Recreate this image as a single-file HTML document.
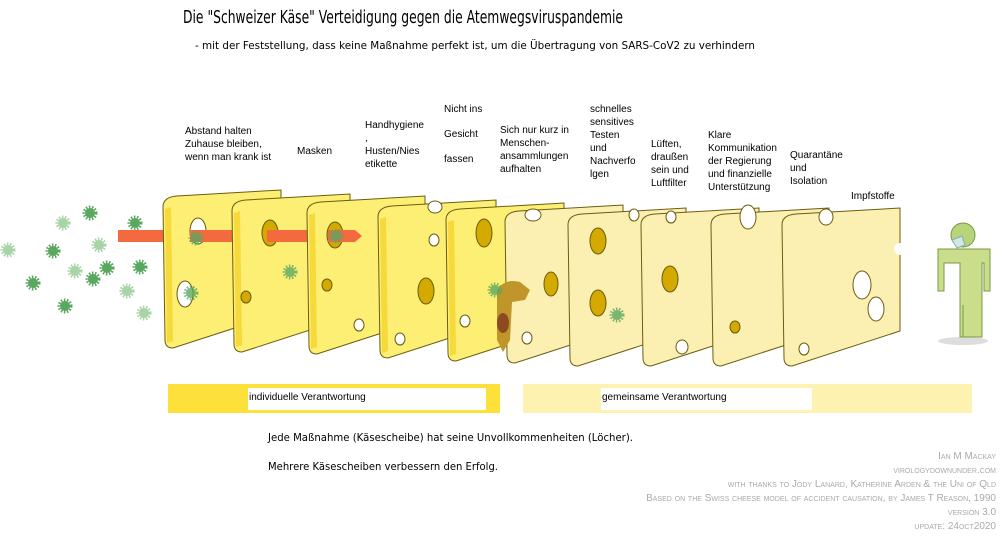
<!DOCTYPE html>
<html><head><meta charset="utf-8"><style>
html,body{margin:0;padding:0;background:#fff;width:1000px;height:546px;overflow:hidden}
svg{display:block}
.l{font-family:"Liberation Sans",Arial,sans-serif;font-size:10px;fill:#000}
.c{font-family:"DejaVu Sans","Liberation Sans",sans-serif;fill:#000}
.cr{font-family:"Liberation Sans",sans-serif;font-size:10px;fill:#aaa;font-variant:small-caps;text-anchor:end}
</style></head><body>
<svg width="1000" height="546" viewBox="0 0 1000 546" xmlns="http://www.w3.org/2000/svg">
<defs>
<path id="sl" d="M0,12 Q0,2 14,1 L118,-5 L118,118 L10,153 Q2,153 2,145 Z"/>
<g id="vir"><circle r="6" fill="none" stroke-width="3" stroke-dasharray="1.5 1.5"/><circle r="4.5"/></g>
</defs>
<text class="c" x="183" y="23" font-size="18" textLength="440" lengthAdjust="spacingAndGlyphs">Die "Schweizer Käse" Verteidigung gegen die Atemwegsviruspandemie</text>
<text class="c" x="195" y="49" font-size="11" textLength="560" lengthAdjust="spacingAndGlyphs">- mit der Feststellung, dass keine Maßnahme perfekt ist, um die Übertragung von SARS-CoV2 zu verhindern</text>

<g class="l">
<text x="185" y="134">Abstand halten</text><text x="185" y="147">Zuhause bleiben,</text><text x="185" y="160">wenn man krank ist</text>
<text x="297" y="154">Masken</text>
<text x="365" y="128">Handhygiene</text><text x="365" y="141">,</text><text x="365" y="154">Husten/Nies</text><text x="365" y="167">etikette</text>
<text x="444" y="112">Nicht ins</text><text x="444" y="137">Gesicht</text><text x="444" y="162">fassen</text>
<text x="500" y="133">Sich nur kurz in</text><text x="500" y="146">Menschen-</text><text x="500" y="159">ansammlungen</text><text x="500" y="172">aufhalten</text>
<text x="590" y="112">schnelles</text><text x="590" y="125">sensitives</text><text x="590" y="138">Testen</text><text x="590" y="151">und</text><text x="590" y="164">Nachverfo</text><text x="590" y="177">lgen</text>
<text x="651" y="147">Lüften,</text><text x="651" y="160">draußen</text><text x="651" y="173">sein und</text><text x="651" y="186">Luftfilter</text>
<text x="708" y="138">Klare</text><text x="708" y="151">Kommunikation</text><text x="708" y="164">der Regierung</text><text x="708" y="177">und finanzielle</text><text x="708" y="190">Unterstützung</text>
<text x="790" y="158">Quarantäne</text><text x="790" y="171">und</text><text x="790" y="184">Isolation</text>
<text x="851" y="199">Impfstoffe</text>
</g>

<g fill="#5aa860" stroke="#5aa860">
<use href="#vir" x="90" y="213"/><use href="#vir" x="53" y="251"/><use href="#vir" x="107" y="268"/><use href="#vir" x="93" y="279"/><use href="#vir" x="33" y="283"/><use href="#vir" x="140" y="267"/><use href="#vir" x="65" y="306"/><use href="#vir" x="135" y="223"/>
</g>
<g fill="#a8d4a8" stroke="#a8d4a8">
<use href="#vir" x="63" y="223"/><use href="#vir" x="8" y="250"/><use href="#vir" x="75" y="271"/><use href="#vir" x="99" y="245"/><use href="#vir" x="127" y="291"/><use href="#vir" x="144" y="313"/>
</g>
<rect x="118" y="230" width="50" height="12" fill="#f26a3e"/>

<g stroke="#6b5c10" stroke-width="1">
<g transform="translate(163,195)"><rect x="95" y="15" width="30" height="110" fill="#d4aa00" stroke="none"/><use href="#sl" fill="#fdef74"/><path d="M2,14 L8,12 L10,146 L4,148Z" fill="#f6d93a" stroke="none"/><ellipse cx="35" cy="36" rx="8" ry="13" fill="#fff"/><ellipse cx="22" cy="99" rx="8" ry="13" fill="#fff"/></g>
<rect x="190" y="230" width="42" height="12" fill="#f26a3e" stroke="none"/>
<g transform="translate(232,199)"><rect x="95" y="15" width="30" height="110" fill="#d4aa00" stroke="none"/><use href="#sl" fill="#fdef74"/><path d="M2,14 L8,12 L10,146 L4,148Z" fill="#f6d93a" stroke="none"/><ellipse cx="38" cy="34" rx="8" ry="13" fill="#d4aa00"/><ellipse cx="14" cy="98" rx="5" ry="6" fill="#d4aa00"/></g>
<rect x="267" y="230" width="42" height="12" fill="#f26a3e" stroke="none"/>
<g transform="translate(307,201)"><rect x="95" y="15" width="30" height="110" fill="#d4aa00" stroke="none"/><use href="#sl" fill="#fdef74"/><path d="M2,14 L8,12 L10,146 L4,148Z" fill="#f6d93a" stroke="none"/><ellipse cx="28" cy="34" rx="8" ry="13" fill="#d4aa00"/><ellipse cx="20" cy="84" rx="5" ry="6" fill="#d4aa00"/><ellipse cx="52" cy="124" rx="5" ry="6" fill="#fff"/></g>
<rect x="328" y="230" width="27" height="12" fill="#f26a3e" stroke="none"/><path d="M355,230 L362,236 L355,242Z" fill="#f26a3e" stroke="none"/>
<g transform="translate(378,205)"><rect x="95" y="15" width="30" height="110" fill="#d4aa00" stroke="none"/><use href="#sl" fill="#fdef74"/><path d="M2,14 L8,12 L10,146 L4,148Z" fill="#f6d93a" stroke="none"/><ellipse cx="57" cy="2" rx="7" ry="6" fill="#fff"/><ellipse cx="56" cy="35" rx="5" ry="6" fill="#fff"/><ellipse cx="48" cy="86" rx="8" ry="13" fill="#d4aa00"/><ellipse cx="22" cy="134" rx="5" ry="6" fill="#fff"/></g>
<g transform="translate(446,208)"><rect x="95" y="15" width="30" height="110" fill="#d4aa00" stroke="none"/><use href="#sl" fill="#fdef74"/><path d="M2,14 L8,12 L10,146 L4,148Z" fill="#f6d93a" stroke="none"/><ellipse cx="38" cy="25" rx="8" ry="14" fill="#d4aa00"/><ellipse cx="19" cy="113" rx="5" ry="6" fill="#fff"/></g>
<g transform="translate(505,210)"><rect x="95" y="15" width="30" height="110" fill="#d4aa00" stroke="none"/><use href="#sl" fill="#fbf0b2"/><ellipse cx="28" cy="5" rx="8" ry="6" fill="#fff"/><ellipse cx="46" cy="74" rx="7" ry="12" fill="#d4aa00"/><ellipse cx="22" cy="128" rx="5" ry="6" fill="#fff"/></g>
<g transform="translate(568,213)"><rect x="95" y="15" width="30" height="110" fill="#d4aa00" stroke="none"/><use href="#sl" fill="#fbf0b2"/><ellipse cx="30" cy="28" rx="8" ry="13" fill="#d4aa00"/><ellipse cx="30" cy="90" rx="8" ry="13" fill="#d4aa00"/><ellipse cx="66" cy="2" rx="5" ry="6" fill="#fff"/></g>
<g transform="translate(641,213)"><rect x="95" y="15" width="30" height="110" fill="#d4aa00" stroke="none"/><use href="#sl" fill="#fbf0b2"/><ellipse cx="30" cy="4" rx="5" ry="6" fill="#fff"/><ellipse cx="29" cy="66" rx="8" ry="13" fill="#d4aa00"/><ellipse cx="41" cy="134" rx="6" ry="7" fill="#fff"/></g>
<g transform="translate(711,213)"><rect x="95" y="15" width="30" height="110" fill="#d4aa00" stroke="none"/><use href="#sl" fill="#fbf0b2"/><ellipse cx="37" cy="4" rx="8" ry="12" fill="#fff"/><ellipse cx="24" cy="114" rx="5" ry="6" fill="#d4aa00"/></g>
<g transform="translate(782,213)"><use href="#sl" fill="#fbf0b2"/><ellipse cx="44" cy="4" rx="7" ry="8" fill="#fff"/><ellipse cx="80" cy="72" rx="9" ry="14" fill="#fff"/><ellipse cx="94" cy="96" rx="8" ry="12" fill="#fff"/><ellipse cx="22" cy="136" rx="5" ry="6" fill="#fff"/><circle cx="118" cy="36" r="6" fill="#fff" stroke="none"/></g>
</g>
<path d="M497,290 Q505,278 520,282 L530,290 L525,300 L512,302 L510,340 L503,352 L497,340Z" fill="#c0962a"/>
<ellipse cx="503" cy="323" rx="6" ry="10" fill="#8b4a22"/>
<g fill="#5aa860" stroke="#5aa860" opacity="0.8">
<use href="#vir" x="196" y="238"/><use href="#vir" x="191" y="293"/><use href="#vir" x="290" y="272"/><use href="#vir" x="336" y="236"/><use href="#vir" x="495" y="290"/><use href="#vir" x="617" y="315"/>
</g>

<ellipse cx="963" cy="341" rx="25" ry="4" fill="#ddd"/>
<circle cx="963" cy="235" r="12" fill="#b8d47a" stroke="#7a9a40"/>
<path d="M952,240 L962,236 L965,245 L957,248Z" fill="#cfe8e0" stroke="#8ab"/>
<path d="M938,249 H990 V291 H984 V263 H982 V337 H960 V263 H944 V291 H938Z" fill="#c9dd8a" stroke="#7a9a40"/>
<line x1="963" y1="305" x2="963" y2="337" stroke="#7a9a40"/>

<rect x="168" y="384" width="332" height="29" fill="#fde03a"/>
<rect x="248" y="388" width="238" height="22" fill="#fff"/>
<text class="l" x="249" y="400" font-size="11">individuelle Verantwortung</text>
<rect x="523" y="384" width="449" height="29" fill="#fdf2b0"/>
<rect x="601" y="388" width="211" height="22" fill="#fff"/>
<text class="l" x="602" y="400" font-size="11">gemeinsame Verantwortung</text>

<text class="c" x="268" y="441" font-size="11" textLength="365" lengthAdjust="spacingAndGlyphs">Jede Maßnahme (Käsescheibe) hat seine Unvollkommenheiten (Löcher).</text>
<text class="c" x="268" y="470" font-size="11" textLength="230" lengthAdjust="spacingAndGlyphs">Mehrere Käsescheiben verbessern den Erfolg.</text>

<text class="cr" x="996" y="459">Ian M Mackay</text>
<text class="cr" x="996" y="473">virologydownunder.com</text>
<text class="cr" x="996" y="487">with thanks to Jody Lanard, Katherine Arden &amp; the Uni of Qld</text>
<text class="cr" x="996" y="501">Based on the Swiss cheese model of accident causation, by James T Reason, 1990</text>
<text class="cr" x="996" y="515">version 3.0</text>
<text class="cr" x="996" y="529">update: 24oct2020</text>
</svg>
</body></html>
